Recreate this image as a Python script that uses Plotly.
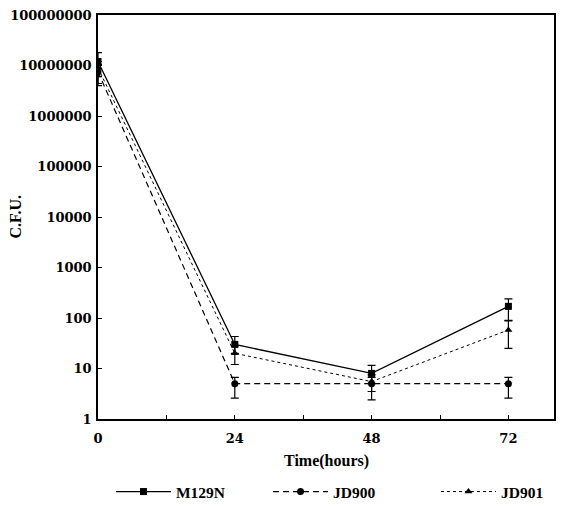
import plotly.graph_objects as go

time_hours = [0, 24, 48, 72]

m129n_cfu = [12000000, 30, 8, 170]
m129n_err_plus = [6000000, 13, 3.5, 70]
m129n_err_minus = [8000000, 10, 3, 80]

jd900_cfu = [7500000, 5, 5, 5]
jd900_err_plus = [3000000, 1.7, 1.7, 1.7]
jd900_err_minus = [3100000, 2.4, 2.6, 2.4]

jd901_cfu = [9000000, 20, 5.5, 58]
jd901_err_plus = [3000000, 8, 2, 30]
jd901_err_minus = [3000000, 8, 2, 33]

y_tick_vals = [1, 10, 100, 1000, 10000, 100000, 1000000, 10000000, 100000000]
y_tick_text = ["1", "10", "100", "1000", "10000", "100000", "1000000", "10000000", "100000000"]
x_tick_vals = [0, 24, 48, 72]
x_tick_text = ["0", "24", "48", "72"]

TICKFONT = "DejaVu Serif"
TEXTFONT = "Liberation Serif"

def err(plus, minus):
    return dict(type="data", symmetric=False, array=plus, arrayminus=minus,
                color="black", thickness=1.2, width=4)

fig = go.Figure()
fig.add_trace(go.Scatter(
    x=time_hours, y=m129n_cfu, name="M129N", mode="lines+markers", legend="legend",
    line=dict(color="black", width=1.3, dash="solid"),
    marker=dict(symbol="square", size=7, color="black"),
    error_y=err(m129n_err_plus, m129n_err_minus)))
fig.add_trace(go.Scatter(
    x=time_hours, y=jd900_cfu, name="JD900", mode="lines+markers", legend="legend2",
    line=dict(color="black", width=1.2, dash="6px,4px"),
    marker=dict(symbol="circle", size=7, color="black"),
    error_y=err(jd900_err_plus, jd900_err_minus)))
fig.add_trace(go.Scatter(
    x=time_hours, y=jd901_cfu, name="JD901", mode="lines+markers", legend="legend3",
    line=dict(color="black", width=1, dash="dot"),
    marker=dict(symbol="triangle-up", size=7, color="black"),
    error_y=err(jd901_err_plus, jd901_err_minus)))

def leg(xpos):
    return dict(orientation="h", xref="container", yref="container",
                x=xpos, y=0.0277, xanchor="left", yanchor="middle",
                itemwidth=55,
                font=dict(family=TEXTFONT, size=15.5, color="black", weight="bold"),
                bgcolor="rgba(0,0,0,0)")

fig.update_layout(
    width=564, height=506,
    margin=dict(l=98, r=8, t=11, b=87),
    paper_bgcolor="white", plot_bgcolor="white",
    font=dict(family=TICKFONT, size=13, color="black"),
    showlegend=True,
    legend=leg(0.1968), legend2=leg(0.4752), legend3=leg(0.773),
    xaxis=dict(range=[0, 80], tickvals=x_tick_vals, ticktext=x_tick_text,
               ticks="inside", ticklen=4, tickcolor="black", ticklabelstandoff=7,
               showline=True, linecolor="black", linewidth=1.5, mirror=True,
               showgrid=False, zeroline=False,
               minor=dict(tickvals=[12, 36, 60], ticks="inside", ticklen=4, tickcolor="black"),
               tickfont=dict(family=TICKFONT, size=13, weight="bold")),
    yaxis=dict(type="log", range=[0, 8], tickvals=y_tick_vals, ticktext=y_tick_text,
               ticks="inside", ticklen=4, tickcolor="black", ticklabelstandoff=2,
               ticklabeloverflow="allow",
               showline=True, linecolor="black", linewidth=1.5, mirror=True,
               showgrid=False, zeroline=False,
               tickfont=dict(family=TICKFONT, size=13, weight="bold")),
    annotations=[
        dict(text="Time(hours)", xref="paper", yref="paper", x=0.5, y=-0.105,
             xanchor="center", yanchor="middle", showarrow=False,
             font=dict(family=TEXTFONT, size=16, weight="bold")),
        dict(text="C.F.U.", xref="paper", yref="paper", x=-0.181, y=0.5,
             xanchor="center", yanchor="middle", showarrow=False, textangle=-90,
             font=dict(family=TEXTFONT, size=16, weight="bold")),
    ],
)

fig.write_html("out.html", config={"displayModeBar": False},
               post_script="document.body.style.margin='0';")
